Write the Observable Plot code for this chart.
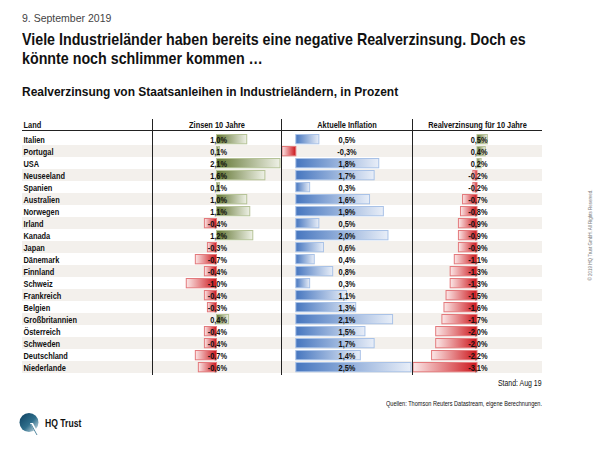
<!DOCTYPE html>
<html><head><meta charset="utf-8">
<script src="https://cdn.jsdelivr.net/npm/d3@7"></script>
<script src="https://cdn.jsdelivr.net/npm/@observablehq/plot@0.6"></script>
<style>
body{margin:0;background:#fff;}
#wrap{position:relative;width:600px;height:450px;overflow:hidden;font-family:"Liberation Sans",Arial,sans-serif;color:#111;}
.abs{position:absolute;white-space:nowrap;}
.fitL{transform-origin:0 50%;}
.fitR{transform-origin:100% 50%;}
.line{position:absolute;background:#222;}
.col svg{display:block;}
</style></head><body><div id="wrap">
<svg width="0" height="0" style="position:absolute">
  <defs>
    <linearGradient id="gPos" x1="0" x2="1" y1="0" y2="0"><stop offset="0" stop-color="#627532"/><stop offset="1" stop-color="#eef1e6"/></linearGradient>
    <linearGradient id="gNeg" x1="0" x2="1" y1="0" y2="0"><stop offset="0" stop-color="#fbe8e8"/><stop offset="1" stop-color="#cc141a"/></linearGradient>
    <linearGradient id="gBlue" x1="0" x2="1" y1="0" y2="0"><stop offset="0" stop-color="#4676bf"/><stop offset="1" stop-color="#e8eef8"/></linearGradient>
    <linearGradient id="gLogo" x1="0" x2="1" y1="0" y2="1"><stop offset="0" stop-color="#0c3f5f"/><stop offset="0.55" stop-color="#2f6f8c"/><stop offset="1" stop-color="#e4eef2"/></linearGradient>
  </defs>
</svg>
<div class="abs fitL" data-w="89" style="left:22px;top:12px;font-size:10.5px;color:#444">9. September 2019</div>
<div class="abs fitL" data-w="504" id="t1" style="left:22px;top:30px;font-size:17px;font-weight:bold;line-height:19px;">Viele Industrieländer haben bereits eine negative Realverzinsung. Doch es</div>
<div class="abs fitL" data-same="t1" style="left:22px;top:49px;font-size:17px;font-weight:bold;line-height:19px;">könnte noch schlimmer kommen …</div>
<div class="abs fitL" data-w="376" style="left:22px;top:85px;font-size:12.5px;font-weight:bold;">Realverzinsung von Staatsanleihen in Industrieländern, in Prozent</div>
<div id="c0" class="abs col" style="left:22px;top:118px;"></div>
<div id="c1" class="abs col" style="left:152px;top:118px;"></div>
<div id="c2" class="abs col" style="left:281px;top:118px;"></div>
<div id="c3" class="abs col" style="left:412px;top:118px;"></div>
<div class="line" style="left:22px;top:130px;width:520px;height:1px;"></div>
<div class="line" style="left:152px;top:119px;width:1px;height:256px;"></div>
<div class="line" style="left:281px;top:119px;width:1px;height:256px;"></div>
<div class="line" style="left:412px;top:119px;width:1px;height:256px;"></div>
<div class="abs fitR" data-w="44" style="right:58px;top:378px;font-size:9px;">Stand: Aug 19</div>
<div class="abs fitR" data-w="156" style="right:58px;top:399px;font-size:7.5px;">Quellen: Thomson Reuters Datastream, eigene Berechnungen.</div>
<svg class="abs" style="left:19px;top:412px;" width="22" height="24" viewBox="0 0 22 24">
  <circle cx="10" cy="10.5" r="9.5" fill="url(#gLogo)"/>
  <path d="M11 11 L17 22 L19 21 L14 11 Z" fill="#fff"/>
  <path d="M12 12 L18 23" stroke="#2f6f8c" stroke-width="0.8"/>
</svg>
<div class="abs fitL" data-w="36" style="left:45px;top:417px;font-size:10.5px;font-weight:bold;">HQ Trust</div>
<div class="abs" style="left:590px;top:235px;font-size:4.5px;color:#777;transform:translate(-50%,-50%) rotate(-90deg);">© 2019 HQ Trust GmbH. All Rights Reserved.</div>
</div>
<script>
const countries = ["Italien","Portugal","USA","Neuseeland","Spanien","Australien","Norwegen","Irland","Kanada","Japan","Dänemark","Finnland","Schweiz","Frankreich","Belgien","Großbritannien","Österreich","Schweden","Deutschland","Niederlande"];
const zinsen = [1.0,0.1,2.1,1.6,0.1,1.0,1.1,-0.4,1.2,-0.3,-0.7,-0.4,-1.0,-0.4,-0.3,0.4,-0.4,-0.4,-0.7,-0.6];
const inflation = [0.5,-0.3,1.8,1.7,0.3,1.6,1.9,0.5,2.0,0.6,0.4,0.8,0.3,1.1,1.3,2.1,1.5,1.7,1.4,2.5];
const realzins = [0.5,0.4,0.2,-0.2,-0.2,-0.7,-0.8,-0.9,-0.9,-0.9,-1.1,-1.3,-1.3,-1.5,-1.6,-1.7,-2.0,-2.0,-2.2,-3.1];
const headers = ["Land","Zinsen 10 Jahre","Aktuelle Inflation","Realverzinsung für 10 Jahre"];

const rows = countries.map((c,i)=>({country:c, zinsen:zinsen[i], inflation:inflation[i], real:realzins[i], i}));
const shaded = rows.filter(d=>d.i % 2 === 1);
const fmt = v => v.toFixed(1).replace(".", ",") + "%";
const H = 257, MT = 13, SQ = 0.78;
const baseStyle = {fontFamily: '"Liberation Sans",Arial,sans-serif', fontSize: "9.5px", fontWeight: "bold", overflow: "visible", background: "transparent"};

function squeeze(svg){
  svg.querySelectorAll("text").forEach(t=>{
    const tr = t.getAttribute("transform");
    if (tr) {
      t.setAttribute("transform", tr + ` scale(${SQ},1)`);
    } else {
      const x = +(t.getAttribute("x")||0), y = +(t.getAttribute("y")||0);
      t.removeAttribute("x"); t.removeAttribute("y");
      t.setAttribute("transform", `translate(${x},${y}) scale(${SQ},1)`);
    }
  });
  return svg;
}

function landPlot(){
  return Plot.plot({
    width:130, height:H, marginTop:MT, marginBottom:0, marginLeft:0, marginRight:0,
    y:{domain:countries, axis:null, padding:0},
    style: baseStyle,
    marks:[
      Plot.cell(shaded,{y:"country", fill:"#f3f0ec"}),
      Plot.text(rows,{y:"country", text:"country", frameAnchor:"left", dx:1}),
      Plot.text([headers[0]],{text:d=>d, frameAnchor:"top-left", lineAnchor:"middle", dx:1, dy:-6.5})
    ]
  });
}

function barPlot({width, domain, key, posFill, header, centered}){
  return Plot.plot({
    width, height:H, marginTop:MT, marginBottom:0, marginLeft:1, marginRight:1,
    x:{domain, axis:null},
    y:{domain:countries, axis:null, padding:0},
    color:{type:"identity"},
    style: baseStyle,
    marks:[
      Plot.cell(shaded,{y:"country", fill:"#f3f0ec", insetLeft:-1, insetRight:-1}),
      Plot.barX(rows,{y:"country", x:key,
        fill:d=>d[key] >= 0 ? posFill : "url(#gNeg)",
        stroke:d=>d[key] >= 0 ? (posFill==="url(#gBlue)" ? "#a9c2e7" : "#b6c398") : "#e3797c",
        strokeWidth:1, insetTop:1.5, insetBottom:1.2}),
      centered
        ? Plot.text(rows,{y:"country", text:d=>fmt(d[key]), frameAnchor:"middle"})
        : Plot.text(rows,{y:"country", x:0, text:d=>fmt(d[key]), textAnchor:"end", dx:10}),
      Plot.text([header],{text:d=>d, frameAnchor:"top", lineAnchor:"middle", dy:-6.5})
    ]
  });
}

document.getElementById("c0").append(squeeze(landPlot()));
document.getElementById("c1").append(squeeze(barPlot({width:129, domain:[-2.1,2.1], key:"zinsen", posFill:"url(#gPos)", header:headers[1]})));
document.getElementById("c2").append(squeeze(barPlot({width:131, domain:[-0.3,2.5], key:"inflation", posFill:"url(#gBlue)", header:headers[2], centered:true})));
document.getElementById("c3").append(squeeze(barPlot({width:130, domain:[-3.1,3.1], key:"real", posFill:"url(#gPos)", header:headers[3]})));

// fit HTML texts horizontally to the reference widths
const scales = {};
document.querySelectorAll("[data-w]").forEach(el=>{
  const s = (+el.dataset.w) / el.offsetWidth;
  scales[el.id] = s;
  el.style.transform = `scaleX(${s})`;
});
document.querySelectorAll("[data-same]").forEach(el=>{
  el.style.transform = `scaleX(${scales[el.dataset.same]})`;
});
</script>
</body></html>
